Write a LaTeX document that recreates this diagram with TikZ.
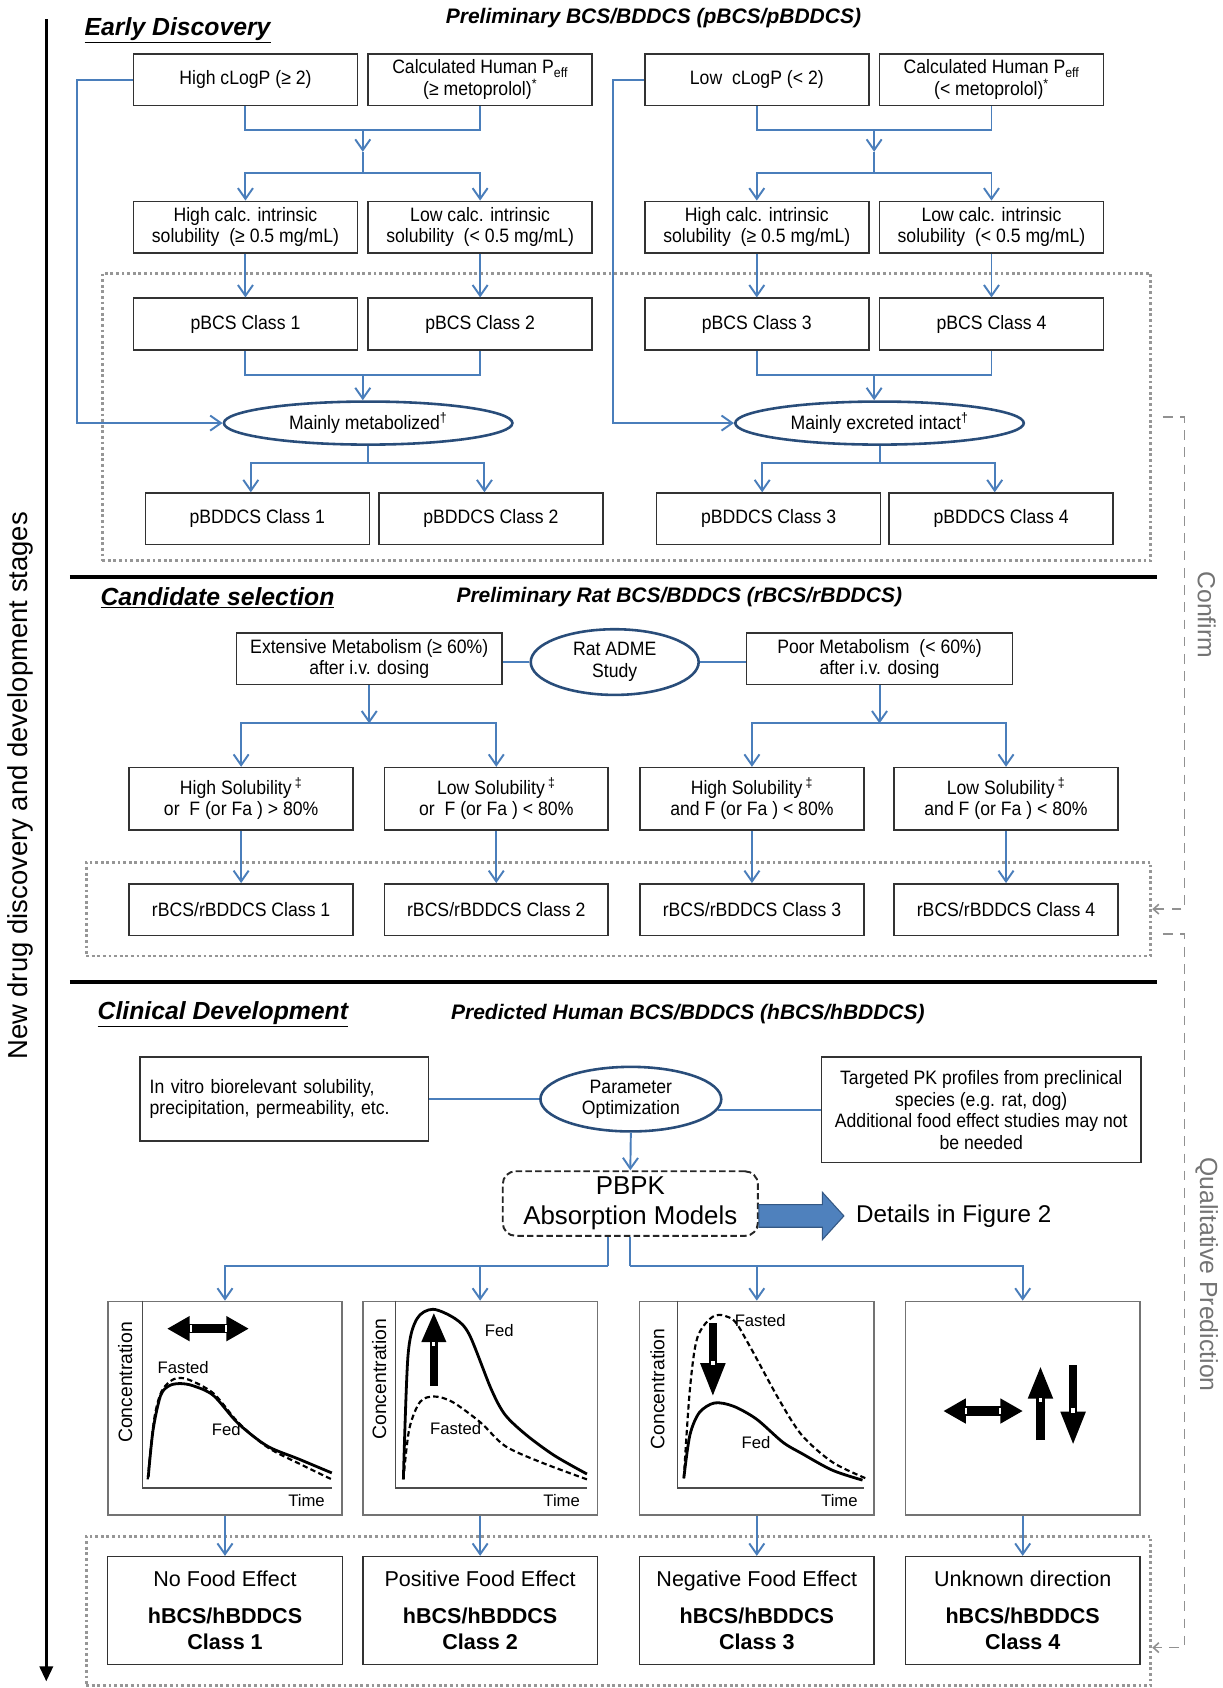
\documentclass[tikz,border=0pt]{standalone}
\usepackage{fontspec}
\setmainfont{Liberation Sans}
\newfontfamily\narrowsf{Liberation Sans}[FakeStretch=0.91]
\usepackage{tikz}
\usetikzlibrary{arrows.meta, shapes.geometric, fit, calc}

\definecolor{linkblue}{RGB}{74,126,187}
\definecolor{ovalblue}{RGB}{41,77,122}
\definecolor{boxgray}{RGB}{50,50,50}
\definecolor{zonegray}{RGB}{150,150,150}
\definecolor{fbgray}{RGB}{145,145,145}
\definecolor{labelgray}{RGB}{115,115,115}
\definecolor{blockblue}{RGB}{79,129,189}
\definecolor{blockedge}{RGB}{52,88,132}

\newcommand{\bxfont}{\narrowsf\fontsize{18}{20}\selectfont}
\newcommand{\secfont}{\fontsize{23}{26}\selectfont\bfseries\itshape}
\newcommand{\subsecfont}{\fontsize{19.5}{22}\selectfont\bfseries\itshape}
\newcommand{\grfont}{\fontsize{15.5}{17}\selectfont}
\newcommand{\ylfont}{\fontsize{18}{20}\selectfont}
\newcommand{\clsfont}{\fontsize{20}{25}\selectfont}

\begin{document}
\begin{tikzpicture}[
    x=1pt, y=-1pt,
    >={Straight Barb[length=10pt, width=14pt]},
    crit/.style={rectangle, draw=boxgray, line width=1.4pt, fill=white, font=\bxfont, minimum width=208pt, minimum height=48pt, inner sep=2pt, align=center},
    oval/.style={ellipse, draw=ovalblue, line width=2.4pt, fill=white, font=\bxfont, inner sep=0pt, align=center},
    zone/.style={draw=zonegray, line width=2.6pt, dash pattern=on 2.6pt off 2.6pt, inner sep=0pt},
    link/.style={draw=linkblue, line width=1.8pt},
    feed/.style={draw=fbgray, line width=1.5pt, dash pattern=on 9pt off 7pt, -{Straight Barb[length=5pt, width=9pt]}},
    plotbox/.style={rectangle, draw=black!55, line width=1.6pt, minimum width=218pt, minimum height=198pt, inner sep=0pt},
    cls/.style={rectangle, draw=boxgray, line width=1.5pt, fill=white, font=\clsfont, minimum width=218pt, minimum height=100pt, inner sep=2pt, align=center},
    sec/.style={font=\secfont, inner sep=0pt},
    subsec/.style={font=\subsecfont, inner sep=0pt},
    axisline/.style={draw=black!70, line width=1.4pt},
    fedcurve/.style={draw=black, line width=2.6pt},
    fastcurve/.style={draw=black, line width=2pt, dash pattern=on 5pt off 3pt},
    hdouble/.style={line width=8.5pt, {Triangle[length=21pt, width=22pt]}-{Triangle[length=21pt, width=22pt]}},
    vsingle/.style={line width=8pt, -{Triangle[length=#1, width=21pt]}},
    notch/.style={fill=white},
]
\useasboundingbox (0,0) rectangle (1136,1568);

\coordinate (tstart) at (43,18);
\coordinate (tend) at (43,1562);
\draw[line width=3.2pt, -{Triangle[length=14pt, width=12pt]}] (tstart) -- (tend);
\node[rotate=90, font=\fontsize{25.5}{28}\selectfont] (stage) at (19,730) {New drug discovery and development stages};

\node[zone, fit={(95,254) (1069,521)}] (zone1) {};
\node[zone, fit={(80,801) (1069,888)}] (zone2) {};
\node[zone, fit={(80,1427) (1069,1566)}] (zone3) {};
\draw[line width=3.5pt] (65,536) -- (1075,536);
\draw[line width=3.5pt] (65,912) -- (1075,912);

\node[sec] (t1) at (165,28) {\underline{Early Discovery}};
\node[subsec] (st1) at (607,17) {Preliminary BCS/BDDCS (pBCS/pBDDCS)};

\node[crit] (hlogp) at (228,74) {High cLogP (≥ 2)};
\node[crit] (hpeff) at (446,74) {Calculated Human P\textsubscript{eff}\\(≥ metoprolol)\textsuperscript{*}};
\node[crit] (llogp) at (703,74) {Low\ \ cLogP (< 2)};
\node[crit] (lpeff) at (921,74) {Calculated Human P\textsubscript{eff}\\(< metoprolol)\textsuperscript{*}};
\node[crit] (hsolA) at (228,211) {High calc. intrinsic\\solubility\ \ (≥ 0.5 mg/mL)};
\node[crit] (lsolA) at (446,211) {Low calc. intrinsic\\solubility\ \ (< 0.5 mg/mL)};
\node[crit] (hsolB) at (703,211) {High calc. intrinsic\\solubility\ \ (≥ 0.5 mg/mL)};
\node[crit] (lsolB) at (921,211) {Low calc. intrinsic\\solubility\ \ (< 0.5 mg/mL)};
\node[crit] (pbcs1) at (228,301) {pBCS Class 1};
\node[crit] (pbcs2) at (446,301) {pBCS Class 2};
\node[crit] (pbcs3) at (703,301) {pBCS Class 3};
\node[crit] (pbcs4) at (921,301) {pBCS Class 4};
\node[oval, minimum width=268pt, minimum height=40pt] (metab) at (342,393) {Mainly metabolized\textsuperscript{†}};
\node[oval, minimum width=268pt, minimum height=40pt] (excr) at (817,393) {Mainly excreted intact\textsuperscript{†}};
\node[crit] (pbddcs1) at (239,482) {pBDDCS Class 1};
\node[crit] (pbddcs2) at (456,482) {pBDDCS Class 2};
\node[crit] (pbddcs3) at (714,482) {pBDDCS Class 3};
\node[crit] (pbddcs4) at (930,482) {pBDDCS Class 4};

\coordinate (mA) at (337,121);
\coordinate (aA) at (337,141);
\coordinate (sA) at (337,161);
\coordinate (mB) at (812,121);
\coordinate (aB) at (812,141);
\coordinate (sB) at (812,161);
\coordinate (mC) at (337,348);
\coordinate (sC) at (342,430);
\coordinate (mD) at (812,348);
\coordinate (sD) at (817,430);

\draw[link] (hlogp.south) |- (mA) -| (hpeff.south);
\draw[link,->] (mA) -- (aA);
\draw[link] (aA) -- (sA);
\draw[link,->] (sA) -| (hsolA.north);
\draw[link,->] (sA) -| (lsolA.north);
\draw[link] (llogp.south) |- (mB) -| (lpeff.south);
\draw[link,->] (mB) -- (aB);
\draw[link] (aB) -- (sB);
\draw[link,->] (sB) -| (hsolB.north);
\draw[link,->] (sB) -| (lsolB.north);
\draw[link,->] (hsolA.south) -- (pbcs1.north);
\draw[link,->] (lsolA.south) -- (pbcs2.north);
\draw[link,->] (hsolB.south) -- (pbcs3.north);
\draw[link,->] (lsolB.south) -- (pbcs4.north);
\draw[link] (pbcs1.south) |- (mC) -| (pbcs2.south);
\draw[link,->] (mC) -- (mC |- metab.north);
\draw[link] (pbcs3.south) |- (mD) -| (pbcs4.south);
\draw[link,->] (mD) -- (mD |- excr.north);
\draw[link,->] (hlogp.west) -- ++(-52,0) |- (metab.west);
\draw[link,->] (llogp.west) -- ++(-29,0) |- (excr.west);
\draw[link] (metab.south) -- (sC);
\draw[link,->] (sC) -| ([xshift=-6pt]pbddcs1.north);
\draw[link,->] (sC) -| ([xshift=-6pt]pbddcs2.north);
\draw[link] (excr.south) -- (sD);
\draw[link,->] (sD) -| ([xshift=-6pt]pbddcs3.north);
\draw[link,->] (sD) -| ([xshift=-6pt]pbddcs4.north);

\node[sec] (t2) at (202,555) {\underline{Candidate selection}};
\node[subsec] (st2) at (631,555) {Preliminary Rat BCS/BDDCS (rBCS/rBDDCS)};

\node[crit, minimum width=247pt] (extm) at (343,612) {Extensive Metabolism (≥ 60\%)\\after i.v. dosing};
\node[oval, minimum width=156pt, minimum height=61pt] (adme) at (571,615) {Rat ADME\\Study};
\node[crit, minimum width=247pt] (poorm) at (817,612) {Poor Metabolism\ \ (< 60\%)\\after i.v. dosing};
\node[crit, minimum height=58pt] (rsol1) at (224,742) {High Solubility\,\textsuperscript{‡}\\or\ \ F (or Fa ) > 80\%};
\node[crit, minimum height=58pt] (rsol2) at (461,742) {Low Solubility\,\textsuperscript{‡}\\or\ \ F (or Fa ) < 80\%};
\node[crit, minimum height=58pt] (rsol3) at (698.5,742) {High Solubility\,\textsuperscript{‡}\\and F (or Fa ) < 80\%};
\node[crit, minimum height=58pt] (rsol4) at (934.5,742) {Low Solubility\,\textsuperscript{‡}\\and F (or Fa ) < 80\%};
\node[crit] (rbcs1) at (224,845) {rBCS/rBDDCS Class 1};
\node[crit] (rbcs2) at (461,845) {rBCS/rBDDCS Class 2};
\node[crit] (rbcs3) at (698.5,845) {rBCS/rBDDCS Class 3};
\node[crit] (rbcs4) at (934.5,845) {rBCS/rBDDCS Class 4};

\coordinate (sE) at (343,672);
\coordinate (sF) at (817,672);
\draw[link] (adme.west) -- (adme.west -| extm.east);
\draw[link] (adme.east) -- (adme.east -| poorm.west);
\draw[link,->] (extm.south) -- (sE);
\draw[link,->] (sE) -| (rsol1.north);
\draw[link,->] (sE) -| (rsol2.north);
\draw[link,->] (poorm.south) -- (sF);
\draw[link,->] (sF) -| (rsol3.north);
\draw[link,->] (sF) -| (rsol4.north);
\draw[link,->] (rsol1.south) -- (rbcs1.north);
\draw[link,->] (rsol2.south) -- (rbcs2.north);
\draw[link,->] (rsol3.south) -- (rbcs3.north);
\draw[link,->] (rsol4.south) -- (rbcs4.north);

\node[sec] (t3) at (207,942) {\underline{Clinical Development}};
\node[subsec] (st3) at (639,942) {Predicted Human BCS/BDDCS (hBCS/hBDDCS)};

\node[crit, minimum width=268pt, minimum height=78pt, align=left, text width=250pt] (invitro) at (264,1021) {In vitro biorelevant solubility,\\precipitation, permeability, etc.};
\node[oval, minimum width=168pt, minimum height=60pt] (popt) at (586,1021) {Parameter\\Optimization};
\node[crit, minimum width=297pt, minimum height=98pt] (tpk) at (911.5,1031) {Targeted PK profiles from preclinical\\species (e.g. rat, dog)\\Additional food effect studies may not\\be needed};
\node[draw=black!85, line width=1.8pt, dash pattern=on 6pt off 3pt, rounded corners=12pt, minimum width=237pt, minimum height=60pt, font=\fontsize{24}{28}\selectfont, align=center, inner sep=0pt] (pbpk) at (585.5,1118) {PBPK\\Absorption Models};
\path (pbpk.east) ++(0,11.5) coordinate (bq);
\filldraw[fill=blockblue, draw=blockedge, line width=1pt] (bq) ++(0,-10.5) -- ++(59,0) -- ++(0,-11.5) -- ++(20,22) -- ++(-20,22) -- ++(0,-11.5) -- ++(-59,0) -- cycle;
\node[anchor=west, font=\fontsize{22.5}{26}\selectfont, inner sep=0pt] (det) at (795,1129.5) {Details in Figure 2};

\node[plotbox] (gr1) at (209,1308) {};
\node[plotbox] (gr2) at (446,1308) {};
\node[plotbox] (gr3) at (703,1308) {};
\node[plotbox] (gr4) at (950,1308) {};
\node[cls] (hc1) at (209,1496) {No Food Effect\\[9pt]{\bfseries hBCS/hBDDCS}\\{\bfseries Class 1}};
\node[cls] (hc2) at (446,1496) {Positive Food Effect\\[9pt]{\bfseries hBCS/hBDDCS}\\{\bfseries Class 2}};
\node[cls] (hc3) at (703,1496) {Negative Food Effect\\[9pt]{\bfseries hBCS/hBDDCS}\\{\bfseries Class 3}};
\node[cls] (hc4) at (950,1496) {Unknown direction\\[9pt]{\bfseries hBCS/hBDDCS}\\{\bfseries Class 4}};

\coordinate (sG) at (565,1176);
\coordinate (sH) at (585,1176);
\draw[link] (invitro.east) -- (popt.west);
\draw[link] (popt.-7) -- (popt.-7 -| tpk.west);
\draw[link,->] (popt.south) -- (pbpk.north);
\draw[link] (sG |- pbpk.south) -- (sG);
\draw[link,->] (sG) -| (gr1.north);
\draw[link,->] (gr2.north |- sG) -- (gr2.north);
\draw[link] (sH |- pbpk.south) -- (sH);
\draw[link,->] (sH) -| (gr4.north);
\draw[link,->] (gr3.north |- sH) -- (gr3.north);
\draw[link,->] (gr1.south) -- (hc1.north);
\draw[link,->] (gr2.south) -- (hc2.north);
\draw[link,->] (gr3.south) -- (hc3.north);
\draw[link,->] (gr4.south) -- (hc4.north);

\begin{scope}[shift={(gr1.north west)}]
  \draw[axisline] (33,0) -- (33,174) -- (209,174);
  \draw[fastcurve] plot[smooth] coordinates {(38,166) (44,110) (51,84) (62,73) (75,73) (99,86) (122,113) (149,136) (180,152) (209,166)};
  \draw[fedcurve] plot[smooth] coordinates {(38.5,164) (43,120) (50,88) (58,79) (68,77) (80,79) (99,88) (122,114) (149,135) (178,147) (209,160)};
  \draw[hdouble] (56,26) -- (132,26);
  \fill[notch] (77,23) rectangle (79.5,29);
  \fill[notch] (109.5,23) rectangle (112,29);
  \node[font=\ylfont, rotate=90] (yl1) at (17,76) {Concentration};
  \node[font=\grfont] (fa1) at (71,62) {Fasted};
  \node[font=\grfont] (fe1) at (111,120) {Fed};
  \node[font=\grfont, anchor=east] (tm1) at (206,186) {Time};
\end{scope}

\begin{scope}[shift={(gr2.north west)}]
  \draw[axisline] (31,0) -- (31,174) -- (209,174);
  \draw[fastcurve] plot[smooth] coordinates {(38.5,166) (44,119) (54,94) (67,89) (84,94) (110,113) (133,135) (166,150) (209,166)};
  \draw[fedcurve] plot[smooth] coordinates {(38.5,166) (42.8,51) (51,17) (66,8) (87,17) (100,32) (120,82) (133,106) (153,125) (179,144) (209,161)};
  \draw[vsingle=28pt] (66.8,79) -- (66.8,10.5);
  \fill[notch] (65.3,38) rectangle (68.3,42);
  \node[font=\ylfont, rotate=90] (yl2) at (16,73) {Concentration};
  \node[font=\grfont] (fe2) at (127.6,28) {Fed};
  \node[font=\grfont] (fa2) at (87,119) {Fasted};
  \node[font=\grfont, anchor=east] (tm2) at (206,186) {Time};
\end{scope}

\begin{scope}[shift={(gr3.north west)}]
  \draw[axisline] (36,0) -- (36,174) -- (209,174);
  \draw[fastcurve] plot[smooth] coordinates {(42,165) (47.6,83) (54.7,34) (70.5,14) (88,18) (102,40) (130.5,92) (151.7,125) (180,150) (211,165)};
  \draw[fedcurve] plot[smooth] coordinates {(42,165) (47.6,125) (56.4,104) (70.5,95) (88,98) (109.5,110) (134,131.5) (151.7,142) (180,157.5) (208,166.7)};
  \draw[vsingle=32pt] (69,21) -- (69,90);
  \fill[notch] (67.5,56) rectangle (70.5,60);
  \node[font=\ylfont, rotate=90] (yl3) at (17.6,82) {Concentration};
  \node[font=\grfont] (fa3) at (113,18) {Fasted};
  \node[font=\grfont] (fe3) at (109,132) {Fed};
  \node[font=\grfont, anchor=east] (tm3) at (207,186) {Time};
\end{scope}

\begin{scope}[shift={(gr4.north west)}]
  \draw[hdouble] (36,102.5) -- (110,102.5);
  \fill[notch] (56,99.5) rectangle (58.5,105.5);
  \fill[notch] (87.5,99.5) rectangle (90,105.5);
  \draw[vsingle=31pt] (126.3,129.5) -- (126.3,60);
  \fill[notch] (124.8,90) rectangle (127.8,94);
  \draw[vsingle=32pt] (156.6,60) -- (156.6,135);
  \fill[notch] (155.1,100) rectangle (158.1,104);
\end{scope}

\draw[feed] ([xshift=10pt]zone1.east) -- ++(20,0) |- (zone2.east);
\draw[feed] ([xshift=10pt, yshift=-23pt]zone2.east) -- ++(20,0) |- ([yshift=-34pt]zone3.east);
\node[rotate=-90, text=labelgray, font=\fontsize{23}{26}\selectfont] (conf) at (1121,571) {Confirm};
\node[rotate=-90, text=labelgray, font=\fontsize{23}{26}\selectfont] (qual) at (1121,1184) {Qualitative Prediction};
\end{tikzpicture}
\end{document}
